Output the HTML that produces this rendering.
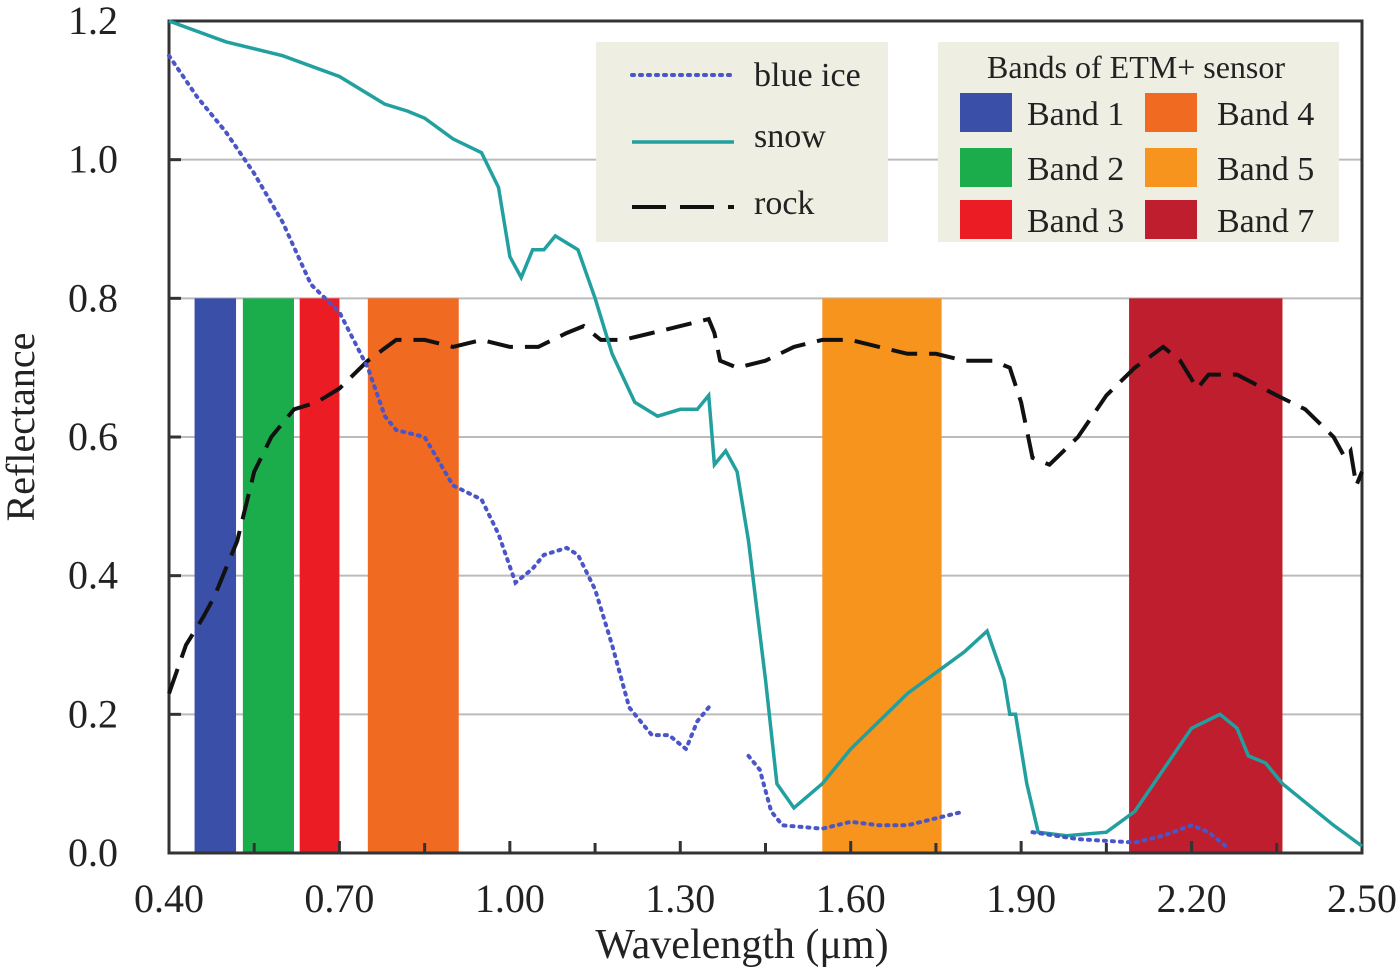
<!DOCTYPE html>
<html><head><meta charset="utf-8"><style>
html,body{margin:0;padding:0;background:#fff;width:1400px;height:971px;overflow:hidden}
svg text{font-family:"Liberation Serif","DejaVu Serif",serif;fill:#222}
</style></head><body>
<svg id="chart" width="1400" height="971" font-family="Liberation Serif, serif"></svg>
<script>
const snowX=[0.40,0.5,0.6,0.7,0.78,0.82,0.85,0.9,0.95,0.98,1.0,1.02,1.04,1.06,1.08,1.10,1.12,1.15,1.18,1.22,1.26,1.30,1.33,1.35,1.36,1.38,1.40,1.42,1.45,1.47,1.50,1.55,1.60,1.65,1.70,1.75,1.80,1.84,1.87,1.88,1.89,1.91,1.93,1.98,2.05,2.10,2.15,2.20,2.25,2.28,2.30,2.33,2.36,2.45,2.50];
const snowY=[1.2,1.17,1.15,1.12,1.08,1.07,1.06,1.03,1.01,0.96,0.86,0.83,0.87,0.87,0.89,0.88,0.87,0.8,0.72,0.65,0.63,0.64,0.64,0.66,0.56,0.58,0.55,0.45,0.25,0.1,0.065,0.1,0.15,0.19,0.23,0.26,0.29,0.32,0.25,0.2,0.2,0.1,0.03,0.025,0.03,0.06,0.12,0.18,0.2,0.18,0.14,0.13,0.1,0.04,0.01];
const iceX=[0.40,0.45,0.5,0.55,0.60,0.65,0.70,0.75,0.78,0.8,0.85,0.90,0.95,0.98,1.01,1.04,1.06,1.10,1.12,1.15,1.18,1.21,1.23,1.25,1.28,1.31,1.33,1.35,null,1.42,1.44,1.46,1.48,1.55,1.60,1.65,1.70,1.75,1.80,null,1.92,2.0,2.1,2.15,2.2,2.23,2.26];
const iceY=[1.15,1.09,1.04,0.98,0.91,0.82,0.78,0.7,0.63,0.61,0.6,0.53,0.51,0.46,0.39,0.41,0.43,0.44,0.43,0.38,0.3,0.21,0.19,0.17,0.17,0.15,0.19,0.21,null,0.14,0.12,0.06,0.04,0.035,0.045,0.04,0.04,0.05,0.06,null,0.03,0.02,0.015,0.025,0.04,0.03,0.01];
const rockX=[0.40,0.43,0.46,0.48,0.52,0.55,0.58,0.62,0.66,0.70,0.75,0.80,0.85,0.90,0.95,1.0,1.05,1.10,1.13,1.16,1.20,1.25,1.30,1.35,1.36,1.37,1.40,1.45,1.50,1.55,1.60,1.65,1.70,1.75,1.80,1.85,1.88,1.90,1.92,1.95,2.0,2.05,2.10,2.15,2.18,2.21,2.23,2.28,2.35,2.40,2.45,2.47,2.48,2.49,2.50];
const rockY=[0.23,0.3,0.34,0.37,0.45,0.55,0.6,0.64,0.65,0.67,0.71,0.74,0.74,0.73,0.74,0.73,0.73,0.75,0.76,0.74,0.74,0.75,0.76,0.77,0.75,0.71,0.7,0.71,0.73,0.74,0.74,0.73,0.72,0.72,0.71,0.71,0.7,0.65,0.57,0.56,0.6,0.66,0.7,0.73,0.71,0.67,0.69,0.69,0.66,0.64,0.6,0.57,0.58,0.53,0.55];
const bandNames=["Band 1","Band 2","Band 3","Band 4","Band 5","Band 7"];
const bandStart=[0.445,0.53,0.63,0.75,1.55,2.09];
const bandEnd=[0.518,0.62,0.70,0.91,1.76,2.36];
const bandColors=["#3a4fa8","#1bad4b","#ec1c24","#f06a22","#f7941d","#be1e2d"];
const bandTop=0.8;
const yTicks=[0,0.2,0.4,0.6,0.8,1.0,1.2];
const xTicks=[0.40,0.70,1.00,1.30,1.60,1.90,2.20,2.50];
const xMinor=[0.55,0.85,1.15,1.45,1.75,2.05,2.35];

const svg=document.getElementById('chart');
const NS='http://www.w3.org/2000/svg';
const X0=169,X1=1362,Y0=853,Y1=21;
const FF='Liberation Serif, serif';
const sx=v=>X0+(v-0.4)/(2.1)*(X1-X0);
const sy=v=>Y0-v/1.2*(Y0-Y1);
function mk(t,a,p){const e=document.createElementNS(NS,t);for(const k in a)e.setAttribute(k,a[k]);if(t==='text')e.setAttribute('font-family',FF);(p||svg).appendChild(e);return e;}
yTicks.forEach(v=>{if(v>0&&v<1.2){const l=mk('line',{x1:X0,x2:X1,y1:sy(v),y2:sy(v),stroke:'#bbb','stroke-width':2});

}});
bandStart.forEach((s,i)=>{const r=mk('rect',{x:sx(s),y:sy(bandTop),width:sx(bandEnd[i])-sx(s),height:sy(0)-sy(bandTop),fill:bandColors[i]});

});
const fr=mk('rect',{x:X0,y:Y1,width:X1-X0,height:Y0-Y1,fill:'none',stroke:'#333','stroke-width':3});


yTicks.forEach(v=>{mk('line',{x1:X0,x2:X0+12,y1:sy(v),y2:sy(v),stroke:'#333','stroke-width':3});
const t=mk('text',{x:118,y:sy(v)+13,'text-anchor':'end','font-size':40});t.textContent=v.toFixed(1);

});
xTicks.forEach(v=>{mk('line',{x1:sx(v),x2:sx(v),y1:Y0,y2:Y0-12,stroke:'#333','stroke-width':3});
const t=mk('text',{x:sx(v),y:912,'text-anchor':'middle','font-size':40});t.textContent=v.toFixed(2);

});
xMinor.forEach(v=>mk('line',{x1:sx(v),x2:sx(v),y1:Y0,y2:Y0-10,stroke:'#333','stroke-width':3}));
function path(xs,ys){let d='',pen=false;xs.forEach((x,i)=>{if(x===null){pen=false;return;}d+=(pen?'L':'M')+sx(x).toFixed(1)+','+sy(ys[i]).toFixed(1);pen=true;});return d;}
const p1=mk('path',{d:path(rockX,rockY),fill:'none',stroke:'#111','stroke-width':4,'stroke-dasharray':'26,12'});


const p2=mk('path',{d:path(snowX,snowY),fill:'none',stroke:'#22a0a0','stroke-width':3.5});


const p3=mk('path',{d:path(iceX,iceY),fill:'none',stroke:'#4a55c8','stroke-width':4,'stroke-dasharray':'2,6','stroke-linecap':'round'});


const yt=mk('text',{x:0,y:0,'font-size':40,'text-anchor':'middle',transform:'translate(34,427) rotate(-90)'});yt.textContent='Reflectance';


const xt=mk('text',{x:742,y:958,'font-size':42,'text-anchor':'middle'});xt.textContent='Wavelength (μm)';


const g1=mk('g',{});


mk('rect',{x:596,y:42,width:292,height:200,fill:'#efeee3'},g1);
mk('line',{x1:632,x2:734,y1:75,y2:75,stroke:'#4a55c8','stroke-width':4,'stroke-dasharray':'2,6','stroke-linecap':'round'},g1);
mk('line',{x1:632,x2:734,y1:142,y2:142,stroke:'#22a0a0','stroke-width':3.5},g1);
mk('line',{x1:632,x2:734,y1:207,y2:207,stroke:'#111','stroke-width':4,'stroke-dasharray':'34,14'},g1);
[['blue ice',86],['snow',147],['rock',214]].forEach(([s,y])=>{const t=mk('text',{x:754,y:y,'font-size':34},g1);t.textContent=s;

});
const g2=mk('g',{});


mk('rect',{x:938,y:42,width:401,height:200,fill:'#efeee3'},g2);
const lt=mk('text',{x:1136,y:78,'font-size':32,'text-anchor':'middle'},g2);lt.textContent='Bands of ETM+ sensor';


const rowsY=[93,148,200];
bandNames.forEach((n,i)=>{const col=i<3?0:1,row=i%3;
mk('rect',{x:col?1145:960,y:rowsY[row],width:52,height:39,fill:bandColors[i]},g2);
const t=mk('text',{x:col?1217:1027,y:rowsY[row]+32,'font-size':34},g2);t.textContent=n;

});
</script>
</body></html>
